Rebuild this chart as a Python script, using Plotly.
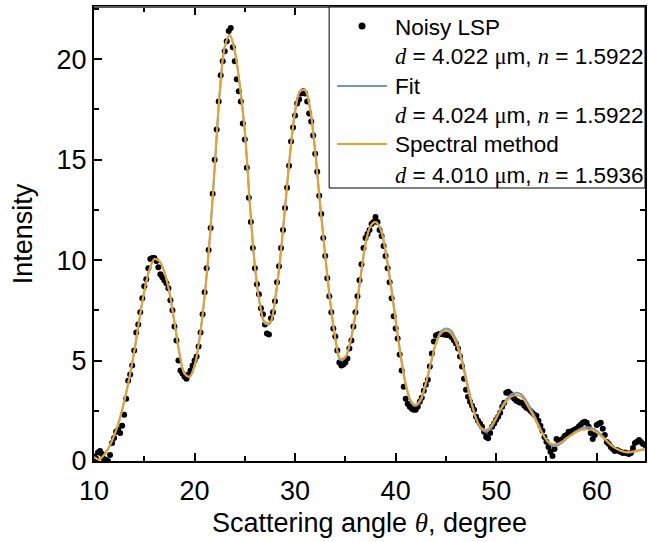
import plotly.graph_objects as go

# ---------------- data ----------------
# noisy LSP: angles 10.0 .. 65.0 step 0.2 deg
noisy_theta = [round(10.0 + 0.2 * i, 1) for i in range(276)]
noisy_intensity = [
    0.22, 0.12, 0.42, 0.50, 0.35, 0.10, 0.05, 0.00, 0.30, 0.90,   # 10.0-11.8
    1.15, 1.45, 1.55, 1.40, 1.75, 2.30, 3.10, 4.00, 4.30, 4.75,   # 12.0-13.8
    5.50, 6.40, 6.80, 7.40, 8.10, 8.70, 9.05, 9.60, 10.05, 10.10,  # 14.0-15.8
    10.10, 9.95, 9.65, 9.30, 9.15, 9.00, 8.85, 8.60, 8.00, 7.50,  # 16.0-17.8
    6.70, 6.00, 5.00, 4.50, 4.35, 4.20, 4.10, 4.30, 4.50, 4.75,   # 18.0-19.8
    5.00, 5.20, 5.70, 6.40, 7.30, 8.40, 9.60, 10.50, 11.60, 13.30,  # 20.0-21.8
    15.00, 16.50, 17.90, 19.20, 19.90, 20.40, 20.90, 21.40, 21.55, 20.60,  # 22.0-23.8
    19.90, 19.00, 18.40, 17.90, 16.80, 16.00, 14.60, 13.10, 11.90, 10.60,  # 24.0-25.8
    9.60, 8.80, 8.30, 7.60, 7.30, 6.80, 6.35, 6.30, 7.10, 7.40,   # 26.0-27.8
    7.95, 8.90, 9.70, 10.60, 11.50, 12.60, 13.60, 14.70, 15.90, 16.60,  # 28.0-29.8
    17.20, 17.80, 18.00, 18.30, 18.40, 18.30, 17.90, 17.30, 16.90, 16.20,  # 30.0-31.8
    15.30, 14.40, 13.20, 12.30, 11.10, 10.20, 9.10, 8.20, 7.40, 6.60,  # 32.0-33.8
    6.20, 5.50, 4.90, 4.75, 4.80, 4.90, 5.10, 5.60, 6.00, 6.70,   # 34.0-35.8
    7.40, 8.20, 9.00, 9.80, 10.60, 11.10, 11.30, 11.50, 11.80, 11.90,  # 36.0-37.8
    12.15, 11.90, 11.50, 11.20, 10.70, 10.20, 9.60, 8.90, 8.10, 7.20,  # 38.0-39.8
    6.60, 6.10, 5.30, 4.50, 3.70, 3.10, 2.85, 2.70, 2.60, 2.55,   # 40.0-41.8
    2.55, 2.70, 2.95, 3.15, 3.50, 3.80, 4.05, 4.70, 5.35, 5.95,   # 42.0-43.8
    6.25, 6.30, 6.32, 6.35, 6.30, 6.28, 6.27, 6.25, 6.15, 6.00,   # 44.0-45.8
    5.85, 5.60, 5.20, 4.70, 4.10, 3.55, 3.20, 2.95, 2.75, 2.55,   # 46.0-47.8
    2.20, 2.00, 1.85, 1.70, 1.45, 1.20, 1.13, 1.40, 1.70, 1.87,   # 48.0-49.8
    2.05, 2.20, 2.40, 2.70, 2.90, 3.40, 3.45, 3.35, 3.20, 3.10,   # 50.0-51.8
    3.00, 2.95, 2.90, 2.90, 2.75, 2.65, 2.60, 2.50, 2.40, 2.30,   # 52.0-53.8
    2.25, 2.00, 1.75, 1.50, 1.20, 0.96, 0.70, 0.46, 0.25, 0.60,   # 54.0-55.8
    1.10, 1.00, 1.05, 1.10, 1.25, 1.30, 1.46, 1.40, 1.50, 1.55,   # 56.0-57.8
    1.60, 1.70, 1.80, 1.90, 1.96, 1.90, 1.70, 1.40, 1.10, 1.30,   # 58.0-59.8
    1.79, 1.85, 1.90, 1.60, 1.30, 0.95, 0.85, 0.70, 0.60, 0.50,   # 60.0-61.8
    0.55, 0.50, 0.45, 0.40, 0.42, 0.38, 0.35, 0.40, 0.65, 0.90,   # 62.0-63.8
    0.96, 1.05, 0.95, 0.85, 0.80, 0.80,                           # 64.0-65.0
]

# model curves: angles 10.0 .. 65.0 step 0.5 deg
curve_theta = [round(10.0 + 0.5 * i, 1) for i in range(111)]
fit_intensity = [
    0.20, 0.08, 0.30, 0.70, 1.25, 2.00, 2.95, 4.10, 5.45, 7.00,
    8.45, 9.50, 10.05, 9.95, 9.40, 8.40, 6.90, 5.35, 4.35, 4.20,
    4.75, 6.10, 8.20, 11.00, 14.60, 18.30, 20.60, 21.20, 20.40, 18.70,
    16.40, 12.80, 9.70, 7.80, 6.85, 6.85, 8.00, 10.00, 12.60, 15.30,
    17.40, 18.40, 18.45, 17.50, 15.40, 12.70, 10.20, 7.90, 6.10, 5.02,
    5.15, 5.95, 7.30, 9.10, 10.80, 11.70, 11.90, 11.55, 10.45, 8.90,
    7.05, 5.30, 3.85, 3.00, 2.75, 3.00, 3.80, 4.85, 5.85, 6.45,
    6.60, 6.50, 6.05, 5.25, 4.15, 3.05, 2.15, 1.60, 1.45, 1.65,
    2.10, 2.65, 3.05, 3.32, 3.40, 3.32, 3.00, 2.55, 2.05, 1.50,
    1.05, 0.78, 0.75, 0.90, 1.12, 1.33, 1.50, 1.63, 1.68, 1.65,
    1.50, 1.28, 1.02, 0.77, 0.60, 0.48, 0.42, 0.43, 0.50, 0.56,
    0.60,
]
spectral_intensity = [
    0.20, 0.08, 0.30, 0.70, 1.25, 2.00, 2.95, 4.10, 5.45, 7.00,
    8.45, 9.50, 10.05, 9.95, 9.40, 8.40, 6.90, 5.35, 4.35, 4.20,
    4.75, 6.10, 8.20, 11.00, 14.60, 18.30, 20.60, 21.20, 20.40, 18.70,
    16.40, 12.80, 9.70, 7.80, 6.90, 6.90, 8.00, 10.00, 12.60, 15.30,
    17.40, 18.40, 18.45, 17.50, 15.40, 12.70, 10.20, 7.90, 6.10, 5.10,
    5.20, 5.95, 7.30, 9.10, 10.80, 11.70, 11.90, 11.55, 10.40, 8.80,
    6.95, 5.20, 3.80, 3.00, 2.80, 3.10, 3.90, 4.90, 5.85, 6.35,
    6.48, 6.35, 5.90, 5.10, 4.00, 2.95, 2.10, 1.65, 1.55, 1.75,
    2.15, 2.60, 2.95, 3.20, 3.27, 3.20, 2.85, 2.40, 1.95, 1.45,
    1.05, 0.85, 0.85, 0.95, 1.15, 1.30, 1.45, 1.55, 1.58, 1.55,
    1.42, 1.22, 0.98, 0.75, 0.60, 0.50, 0.45, 0.47, 0.52, 0.57,
    0.60,
]

x_ticks = [10, 20, 30, 40, 50, 60]
y_ticks = [0, 5, 10, 15, 20]

SERIF = "font-family:'Liberation Serif',serif"
def it(s):
    return f'<span style="{SERIF}"><i>{s}</i></span>'
MU = f'<span style="{SERIF}">μ</span>'

series_names = ["Noisy LSP", "Fit", "Spectral method"]
param_labels = [
    f"{it('d')} = 4.022 {MU}m, {it('n')} = 1.5922",
    f"{it('d')} = 4.024 {MU}m, {it('n')} = 1.5922",
    f"{it('d')} = 4.010 {MU}m, {it('n')} = 1.5936",
]

BLUE = "#7096d2"
ORANGE = "#e8a22a"

# plot-area geometry (pixels) used to place the legend box
W, H = 648, 542
L, R, T, B = 94, 1, 7, 81
PW, PH = W - L - R, H - T - B
def px(x):
    return (x - L) / PW
def py(y):
    return (H - B - y) / PH

fig = go.Figure()
fig.add_trace(go.Scatter(x=noisy_theta, y=noisy_intensity, mode="markers",
                         marker=dict(color="black", size=6), name=series_names[0],
                         showlegend=False))
fig.add_trace(go.Scatter(x=curve_theta, y=fit_intensity, mode="lines",
                         line=dict(color=BLUE, width=2, shape="spline"), name=series_names[1],
                         showlegend=False))
fig.add_trace(go.Scatter(x=curve_theta, y=spectral_intensity, mode="lines",
                         line=dict(color=ORANGE, width=2, shape="spline"), name=series_names[2],
                         showlegend=False))

axis_common = dict(
    showline=True, linecolor="black", linewidth=2, mirror="ticks",
    ticks="inside", ticklen=8, tickwidth=1.5, tickcolor="black",
    showgrid=False, zeroline=False,
    tickfont=dict(size=27, color="black"),
)

fig.update_xaxes(
    range=[10, 64.8], tickvals=x_ticks, ticklabelstandoff=5,
    minor=dict(dtick=5, ticks="inside", ticklen=5, tickwidth=1.5, tickcolor="black", showgrid=False),
    title=dict(text=f"Scattering angle {it('θ')}, degree", font=dict(size=27, color="black"), standoff=8),
    **axis_common,
)
fig.update_yaxes(
    range=[0, 22.6], tickvals=y_ticks,
    minor=dict(dtick=2.5, ticks="inside", ticklen=5, tickwidth=1.5, tickcolor="black", showgrid=False),
    title=dict(text="Intensity", font=dict(size=27, color="black"), standoff=16),
    **axis_common,
)

# ---- legend box drawn as shapes + annotations ----
shapes = [
    dict(type="line", xref="paper", yref="paper", x0=0, x1=1, y0=1, y1=1,
         line=dict(color="#5a5a5a", width=2), layer="above"),
    dict(type="rect", xref="paper", yref="paper", x0=px(330), x1=1.0, y0=py(188), y1=1.0,
         line=dict(color="black", width=1), fillcolor="white", layer="above"),
    dict(type="circle", xref="paper", yref="paper", xsizemode="pixel", ysizemode="pixel",
         xanchor=px(363), yanchor=py(26), x0=-3.5, x1=3.5, y0=-3.5, y1=3.5,
         fillcolor="black", line=dict(color="black", width=0), layer="above"),
    dict(type="line", xref="paper", yref="paper", x0=px(338), x1=px(388), y0=py(86), y1=py(86),
         line=dict(color=BLUE, width=2), layer="above"),
    dict(type="line", xref="paper", yref="paper", x0=px(338), x1=px(388), y0=py(144), y1=py(144),
         line=dict(color=ORANGE, width=2), layer="above"),
]
row_y = [27, 57, 86, 116, 144, 175]
row_text = [series_names[0], param_labels[0], series_names[1], param_labels[1],
            series_names[2], param_labels[2]]
annotations = [
    dict(text=t, x=px(394), y=py(yy), xref="paper", yref="paper", xanchor="left",
         yanchor="middle", showarrow=False, font=dict(size=22.5, color="black"))
    for t, yy in zip(row_text, row_y)
]

fig.update_layout(
    width=W, height=H,
    margin=dict(l=L, r=R, t=T, b=B),
    paper_bgcolor="white", plot_bgcolor="white",
    font=dict(family="Liberation Sans, Arial, sans-serif", color="black"),
    shapes=shapes, annotations=annotations,
    showlegend=False,
)

fig.write_html("out.html", config={"displayModeBar": False},
               post_script="document.body.style.margin='0';")
